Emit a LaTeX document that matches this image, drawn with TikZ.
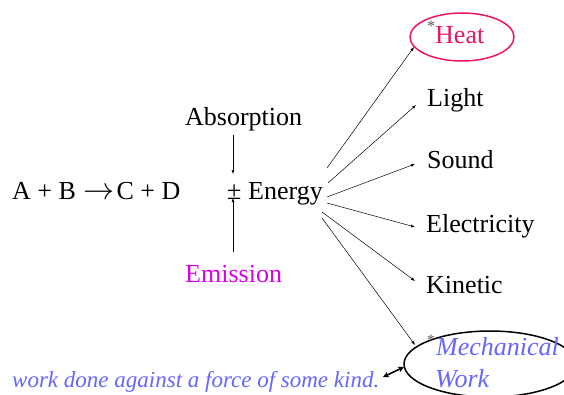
\documentclass[tikz,border=0pt]{standalone}
\usepackage{fontspec}
\setmainfont{Liberation Serif}
\usetikzlibrary{arrows.meta}
\definecolor{heatpink}{RGB}{240,20,100}
\definecolor{emisvio}{RGB}{215,0,235}
\definecolor{mechblue}{RGB}{102,102,255}
\begin{document}
\begin{tikzpicture}[x=1pt,y=-1pt,
  lbl/.style={anchor=base west,inner sep=0pt,font=\fontsize{26}{30}\selectfont},
  ital/.style={lbl,font=\fontsize{26}{30}\selectfont\itshape,text=mechblue},
  star/.style={anchor=center,inner sep=0pt,text=gray!70!black,font=\fontsize{16}{18}\selectfont},
  arr/.style={-{Latex[length=4pt,width=3pt]},line width=0.5pt},
  ring/.style={line width=1.5pt}]
\useasboundingbox (0,0) rectangle (564,394);
\clip (0,0) rectangle (564,394);
% equation
\node[lbl] (eq) at (12,199) {A + B\kern8pt\scalebox{1.25}{$\rightarrow$}\kern1.5pt C + D};
\node[lbl] (pm) at (227,199) {±};
\node[lbl] (energy) at (248,199) {Energy};
\node[lbl] (abs) at (185,125) {Absorption};
\node[lbl,text=emisvio] (emis) at (185,282) {Emission};
\coordinate (absb) at (233,135);
\coordinate (pmt) at (233,174);
\coordinate (emit) at (233,252);
\coordinate (pmb) at (233,198);
\draw[arr] (absb) -- (pmt);
\draw[arr] (emit) -- (pmb);
% targets
\draw[ring,heatpink] (462,37) ellipse [x radius=52,y radius=24];
\node[lbl,text=heatpink] (heat) at (435,43) {Heat};
\node[star] (hstar) at (431,26) {*};
\node[lbl] (light) at (427,106) {Light};
\node[lbl] (sound) at (427,168) {Sound};
\node[lbl] (elec) at (426,232) {Electricity};
\node[lbl] (kin) at (426,293) {Kinetic};
\draw[ring,black] (490,364) ellipse [x radius=86,y radius=33];
\node[ital] (mech) at (436,355) {Mechanical};
\node[ital] (work) at (435,387) {Work};
\node[star] (mstar) at (431,340) {*};
\node[ital,font=\fontsize{23}{28}\selectfont\itshape] (def) at (12,387) {work done against a force of some kind.};
% start points on Energy
\coordinate (s1) at (327,168);
\coordinate (s2) at (328,183);
\coordinate (s3) at (327,197);
\coordinate (s4) at (327,203);
\coordinate (s5) at (322,212);
\coordinate (s6) at (322,218);
\coordinate (t1) at (414,47);
\coordinate (t2) at (416,105);
\coordinate (t3) at (415,164);
\coordinate (t4) at (415,227);
\coordinate (t5) at (415,281);
\coordinate (t6) at (415,345);
\draw[arr] (s1) -- (t1);
\draw[arr] (s2) -- (t2);
\draw[arr] (s3) -- (t3);
\draw[arr] (s4) -- (t4);
\draw[arr] (s5) -- (t5);
\draw[arr] (s6) -- (t6);
% double arrow
\coordinate (d1) at (383,377);
\coordinate (d2) at (404,367);
\draw[{Stealth[length=6pt,width=6pt]}-{Stealth[length=6pt,width=6pt]},line width=1.6pt] (d1) -- (d2);
\end{tikzpicture}
\end{document}
